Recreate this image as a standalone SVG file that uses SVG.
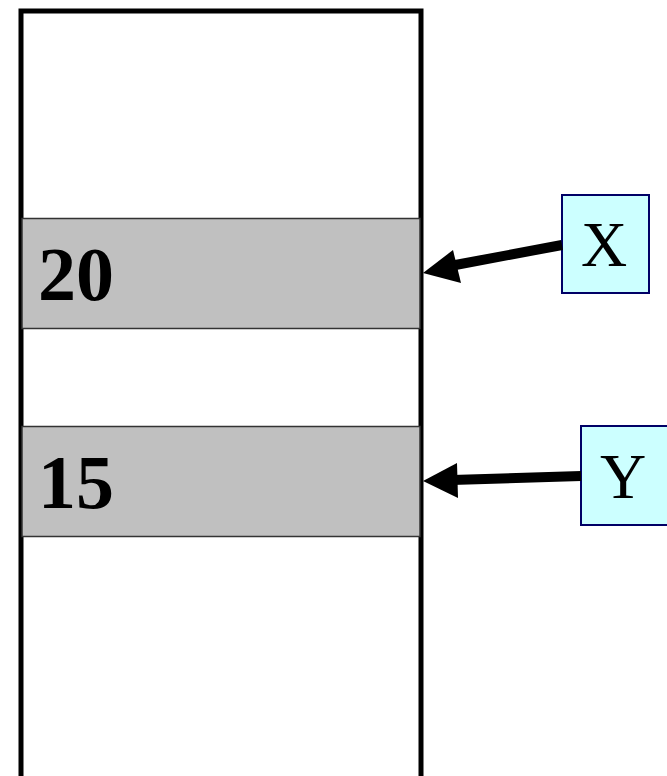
<svg xmlns="http://www.w3.org/2000/svg" width="667" height="776" viewBox="0 0 667 776">
<style>
.cell{fill:#c0c0c0;stroke:#333;stroke-width:1.5}
.num{font-family:"Liberation Serif",serif;font-weight:bold;font-size:76px;fill:#000}
.lbl{fill:#ccffff;stroke:#000066;stroke-width:2}
.lt{font-family:"Liberation Serif",serif;font-size:64px;fill:#000;text-anchor:middle}
.conn{stroke:#000;stroke-width:10;fill:none}
</style>
<rect width="667" height="776" fill="#fff"/>
<g id="memory">
<rect x="21" y="11" width="400" height="780" fill="#fff" stroke="#000" stroke-width="5"/>
</g>
<g id="cell20">
<rect class="cell" x="22" y="218.5" width="398" height="110"/>
<text class="num" x="38" y="300">20</text>
</g>
<g id="cell15">
<rect class="cell" x="22" y="426.5" width="398" height="110"/>
<text class="num" x="38" y="508">15</text>
</g>
<g id="boxX">
<rect class="lbl" x="562" y="195" width="87" height="98"/>
<text class="lt" x="604" y="266">X</text>
</g>
<g id="boxY">
<rect class="lbl" x="581" y="426" width="96" height="99"/>
<text class="lt" x="623" y="498">Y</text>
</g>
<g id="connectors">
<line class="conn" x1="562" y1="245" x2="450" y2="266"/>
<polygon points="423,273 453,250 461,283" fill="#000"/>
<line class="conn" x1="581" y1="476" x2="452" y2="480"/>
<polygon points="423,481 457,463 458,498" fill="#000"/>
</g>
</svg>
